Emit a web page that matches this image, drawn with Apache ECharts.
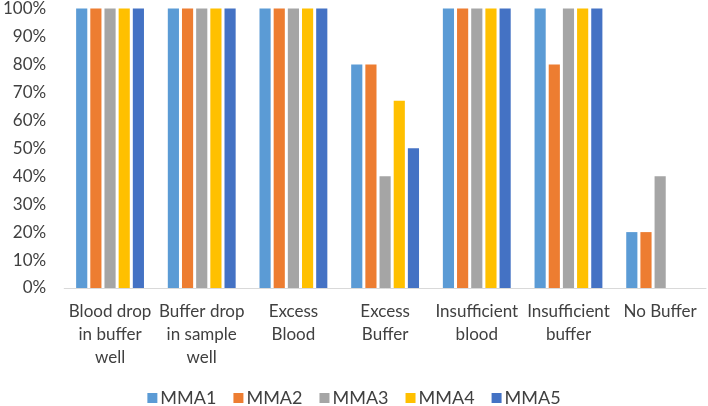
<!DOCTYPE html>
<html><head><meta charset="utf-8">
<script src="https://cdn.jsdelivr.net/npm/echarts@6/dist/echarts.min.js"></script>
<style>html,body{margin:0;padding:0;background:#fff}#c{width:708px;height:406px}</style>
</head><body><div id="c"></div>
<script>
const categories = ["Blood drop\nin buffer\nwell", "Buffer drop\nin sample\nwell", "Excess\nBlood", "Excess\nBuffer", "Insufficient\nblood", "Insufficient\nbuffer", "No Buffer"];
const seriesNames = ["MMA1", "MMA2", "MMA3", "MMA4", "MMA5"];
const mma1 = [100, 100, 100, 80, 100, 100, 20];
const mma2 = [100, 100, 100, 80, 100, 80, 20];
const mma3 = [100, 100, 100, 40, 100, 100, 40];
const mma4 = [100, 100, 100, 67, 100, 100, 0];
const mma5 = [100, 100, 100, 50, 100, 100, 0];
const colors = ["#5B9BD5", "#ED7D31", "#A5A5A5", "#FFC000", "#4472C4"];
const allData = [mma1, mma2, mma3, mma4, mma5];
const font = "Lato, 'Open Sans', sans-serif";
const txt = '#404040';
const chart = echarts.init(document.getElementById('c'));
chart.setOption({
  animation: false,
  color: colors,
  grid: {left: 60, right: 2, top: 8, bottom: 118},
  legend: {
    top: 388, left: 'center', padding: 0, itemWidth: 10, itemHeight: 10, itemGap: 17, icon: 'rect',
    textStyle: {fontFamily: font, fontSize: 18, lineHeight: 20, color: txt, padding: [0, 0, 0, -2]},
    data: seriesNames
  },
  xAxis: {
    type: 'category', data: categories,
    axisLine: {lineStyle: {color: '#d9d9d9', width: 1}},
    axisTick: {show: false},
    axisLabel: {interval: 0, fontFamily: font, fontSize: 17, color: txt, lineHeight: 23, margin: 12}
  },
  yAxis: {
    type: 'value', min: 0, max: 100, interval: 10,
    axisLine: {show: false}, axisTick: {show: false}, splitLine: {show: false},
    axisLabel: {formatter: '{value}%', fontFamily: font, fontSize: 17, color: txt, margin: 18}
  },
  series: seriesNames.map((n, i) => ({
    name: n, type: 'bar', data: allData[i], barGap: '27%', barCategoryGap: '26%'
  }))
});
</script></body></html>
